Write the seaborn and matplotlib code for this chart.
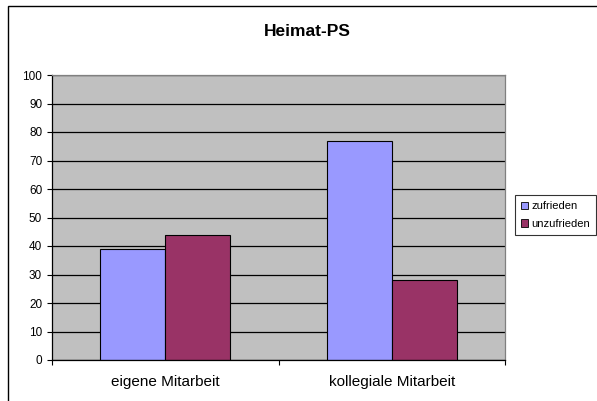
import pandas as pd
import seaborn as sns
import matplotlib.pyplot as plt
from matplotlib.patches import Rectangle, Patch

categories = ['eigene Mitarbeit', 'kollegiale Mitarbeit']
series = ['zufrieden', 'unzufrieden']
zufrieden = [39, 77]
unzufrieden = [44, 28]
colors = ['#9999FF', '#993366']

df = pd.DataFrame({
    'Kategorie': categories * 2,
    'Gruppe': [series[0]] * 2 + [series[1]] * 2,
    'Wert': zufrieden + unzufrieden,
})

sns.set_style('white')
plt.rcParams['font.family'] = ['Liberation Sans', 'DejaVu Sans']
plt.rcParams['text.color'] = 'black'
plt.rcParams['xtick.color'] = 'black'
plt.rcParams['ytick.color'] = 'black'
plt.rcParams['axes.labelcolor'] = 'black'

fig = plt.figure(figsize=(5.97, 4.01), dpi=100)
# outer chart frame (right and bottom edges fall outside the image)
fig.patches.append(Rectangle((8 / 597, -0.05), 1.0, 1 - 6 / 401 + 0.05,
                             transform=fig.transFigure, fill=False,
                             edgecolor='black', linewidth=1.0, clip_on=False))

ax = fig.add_axes([52 / 597, 41 / 401, 453 / 597, 285 / 401])
ax.set_facecolor('#C0C0C0')
sns.barplot(data=df, x='Kategorie', y='Wert', hue='Gruppe', ax=ax,
            palette=colors, width=0.575, edgecolor='black', linewidth=0.8,
            saturation=1, legend=False)

ax.set_ylim(0, 100)
ax.set_xlim(-0.5, 1.5)
ax.set_yticks(range(0, 101, 10))
ax.yaxis.grid(True, color='black', linewidth=0.9)
ax.set_axisbelow(True)
ax.tick_params(axis='y', which='major', direction='out', length=3.6, width=0.8,
               labelsize=8.5, color='black', labelcolor='black', pad=3.5, left=True)
ax.tick_params(axis='x', which='major', length=0, labelsize=11,
               labelcolor='black', pad=11)
ax.set_xticks([-0.5, 0.5, 1.5], minor=True)
ax.tick_params(axis='x', which='minor', direction='out', length=3.6, width=0.8,
               color='black', bottom=True)
ax.set_xlabel('')
ax.set_ylabel('')
for side in ['left', 'bottom']:
    ax.spines[side].set_color('black')
    ax.spines[side].set_linewidth(0.9)
for side in ['top', 'right']:
    ax.spines[side].set_color('#808080')
    ax.spines[side].set_linewidth(0.9)

fig.text(307 / 597, 1 - 32 / 401, 'Heimat-PS', ha='center', va='center',
         fontsize=12.5, fontweight='bold', color='black')

handles = [Patch(facecolor=c, edgecolor='black', linewidth=0.6) for c in colors]
leg = fig.legend(handles, series, loc='upper left',
                 bbox_to_anchor=(515 / 597, 1 - 195 / 401),
                 fontsize=8, frameon=True, fancybox=False,
                 handlelength=0.6, handleheight=0.6, handletextpad=0.3,
                 borderpad=0.55, labelspacing=0.7, borderaxespad=0)
leg.get_frame().set_edgecolor('black')
leg.get_frame().set_linewidth(0.8)
for t in leg.get_texts():
    t.set_color('black')

fig.savefig('out.png', dpi=100)
